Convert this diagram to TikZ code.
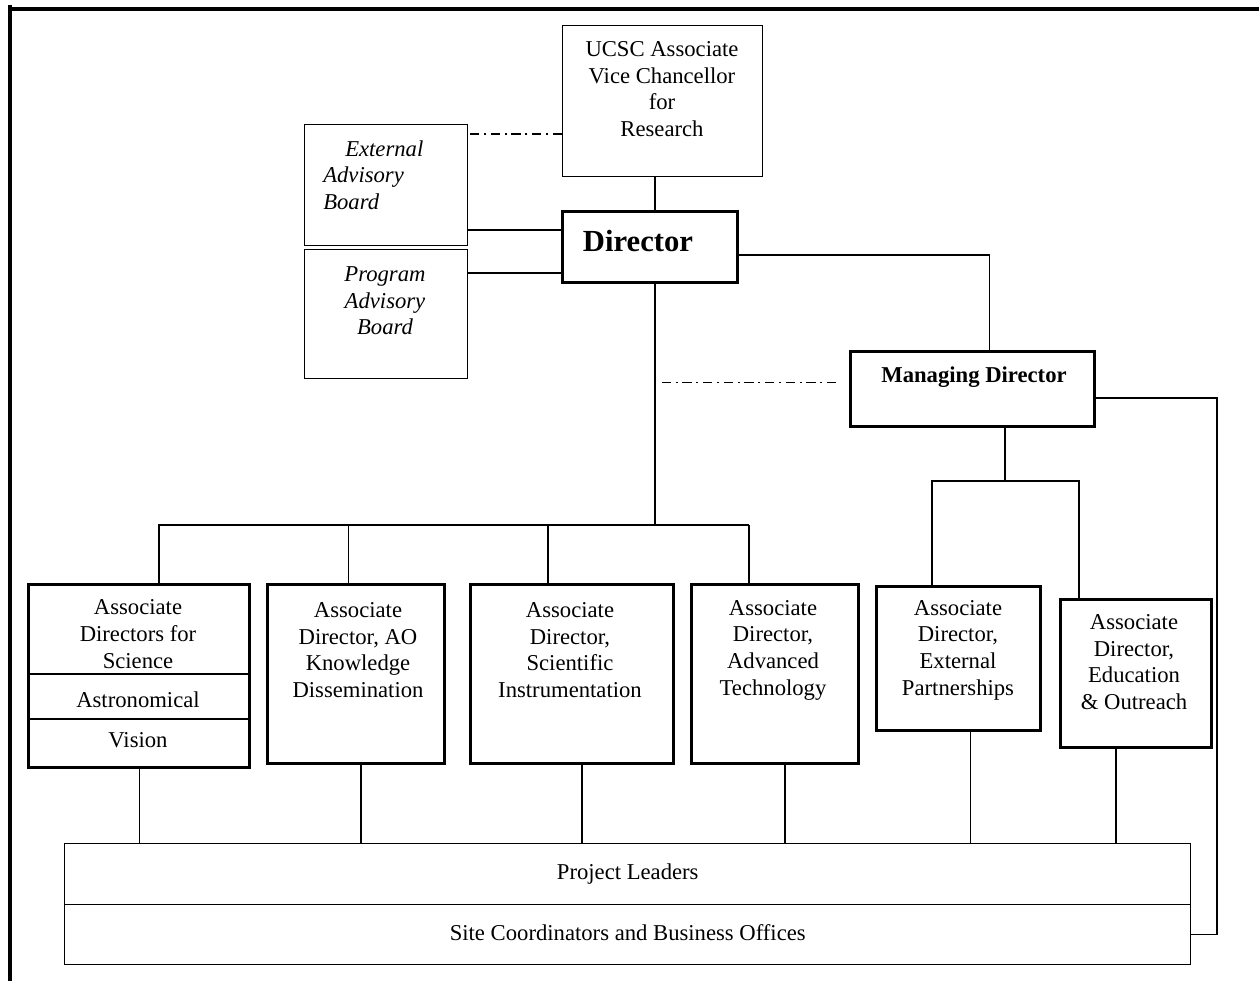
\documentclass[tikz,border=0pt]{standalone}
\usepackage{xcolor}
\usepackage{amsmath}
\usepackage{fontspec}
\setmainfont{Liberation Serif}
\usepackage{tikz}

\begin{document}
\begin{tikzpicture}[x=0.75pt,y=0.75pt,yscale=-1,xscale=1,
    thinbox/.style={draw, line width=1.1pt, anchor=north west, inner sep=0pt},
    thickbox/.style={draw, line width=2.6pt, anchor=north west, inner sep=0pt},
    txt/.style={align=center, inner sep=0pt, font=\fontsize{17}{20}\selectfont},
    wire/.style={line width=1.1pt},
    dashdotline/.style={line width=1.1pt, dash pattern=on 7pt off 3.5pt on 1.5pt off 3.5pt}]
        \useasboundingbox (0,0) rectangle (1259,981);

        %Shape: Frame
        \draw [line width=3pt] (10,5) -- (10,981) ;
        \draw [line width=3pt] (8,9) -- (1259,9) ;

        %Shape: Rectangle
        \node [thinbox, minimum width=150pt, minimum height=113.25pt] (ucsc) at (562,25) {};
        %Shape: Rectangle
        \node [thinbox, minimum width=122.25pt, minimum height=90.75pt] (extb) at (304,124) {};
        %Shape: Rectangle
        \node [thinbox, minimum width=122.25pt, minimum height=96.75pt] (progb) at (304,249) {};
        %Shape: Rectangle
        \node [thickbox, minimum width=131.25pt, minimum height=53.25pt] (dir) at (561,210) {};
        %Shape: Rectangle
        \node [thickbox, minimum width=183pt, minimum height=56.25pt] (md) at (849,350) {};

        %Shape: Rectangle
        \node [thickbox, minimum width=165.75pt, minimum height=137.25pt] (sci) at (27,583) {};
        \draw [wire] (27,674) -- (248,674) ;
        \draw [wire] (27,719) -- (248,719) ;
        %Shape: Rectangle
        \node [thickbox, minimum width=132.75pt, minimum height=134.25pt] (ao) at (266,583) {};
        %Shape: Rectangle
        \node [thickbox, minimum width=152.25pt, minimum height=134.25pt] (si) at (469,583) {};
        %Shape: Rectangle
        \node [thickbox, minimum width=125.25pt, minimum height=134.25pt] (at) at (690,583) {};
        %Shape: Rectangle
        \node [thickbox, minimum width=123pt, minimum height=108pt] (ep) at (875,585) {};
        %Shape: Rectangle
        \node [thickbox, minimum width=113.25pt, minimum height=111pt] (edu) at (1059,598) {};

        %Shape: Rectangle
        \node [thinbox, txt, minimum width=844.5pt, minimum height=45.75pt, text depth=4pt] (pl) at (64,843) {Project Leaders};
        %Shape: Rectangle
        \node [thinbox, txt, minimum width=844.5pt, minimum height=45pt, text depth=4pt] (sco) at (64,904) {Site Coordinators and Business Offices};

        \coordinate (bus) at (655,525) ;
        \coordinate (mdbus) at (1005,481) ;
        \coordinate (loopx) at (1217,650) ;

        %Connectors
        \draw [wire] (ucsc.south -| bus) -- (dir.north -| bus) ;
        \draw [dashdotline] (ucsc.198) -- (ucsc.198 -| extb.east) ;
        \draw [wire] (dir.169) -- (dir.169 -| extb.east) ;
        \draw [wire] (dir.196) -- (dir.196 -| progb.east) ;
        \draw [wire] (dir.-5) -| (md.67) ;
        \draw [dashdotline, shorten <=5pt, shorten >=8pt] (bus |- md.177) -- (md.177) ;
        \draw [wire] (dir.south -| bus) -- (bus) ;
        \draw [wire] (sci.78) |- (at.106 |- bus) ;
        \foreach \b in {ao.95, si.105, at.106}
            \draw [wire] (\b) -- (\b |- bus) ;
        \draw [wire] (md.south -| mdbus) -- (mdbus) ;
        \draw [wire] (ep.110) |- (mdbus) -| (edu.127) ;
        \draw [wire] (md.-4) -| (loopx) |- (sco.east) ;
        \foreach \b in {sci.south, ao.-87, si.-84, at.-84, ep.-81, edu.-105}
            \draw [wire] (\b) -- (\b |- pl.north) ;

        % Text Node
        \node [txt] (ucsc-t) at (662,89) {UCSC Associate\\Vice Chancellor\\for\\Research};
        % Text Node
        \node [txt, align=left, anchor=west, font=\fontsize{17}{20}\selectfont\itshape] (extb-t) at (323,175) {\hspace*{16.5pt}External\\Advisory\\Board};
        % Text Node
        \node [txt, font=\fontsize{17}{20}\selectfont\itshape] (progb-t) at (385,301) {Program\\Advisory\\Board};
        % Text Node
        \node [txt, font=\fontsize{23}{27}\selectfont\bfseries] (dir-t) at (638,241) {Director};
        % Text Node
        \node [txt, font=\fontsize{17}{20}\selectfont\bfseries] (md-t) at (974,377) {Managing Director};
        % Text Node
        \node [txt] (sci-t) at (138,634) {Associate\\Directors for\\Science};
        % Text Node
        \node [txt] (astro-t) at (138,700) {Astronomical};
        % Text Node
        \node [txt] (vision-t) at (138,740) {Vision};
        % Text Node
        \node [txt] (ao-t) at (358,650) {Associate\\Director, AO\\Knowledge\\Dissemination};
        % Text Node
        \node [txt] (si-t) at (570,650) {Associate\\Director,\\Scientific\\Instrumentation};
        % Text Node
        \node [txt] (at-t) at (773,650) {Associate\\Director,\\Advanced\\Technology};
        % Text Node
        \node [txt] (ep-t) at (958,650) {Associate\\Director,\\External\\Partnerships};
        % Text Node
        \node [txt] (edu-t) at (1134,662) {Associate\\Director,\\Education\\\& Outreach};
\end{tikzpicture}
\end{document}
